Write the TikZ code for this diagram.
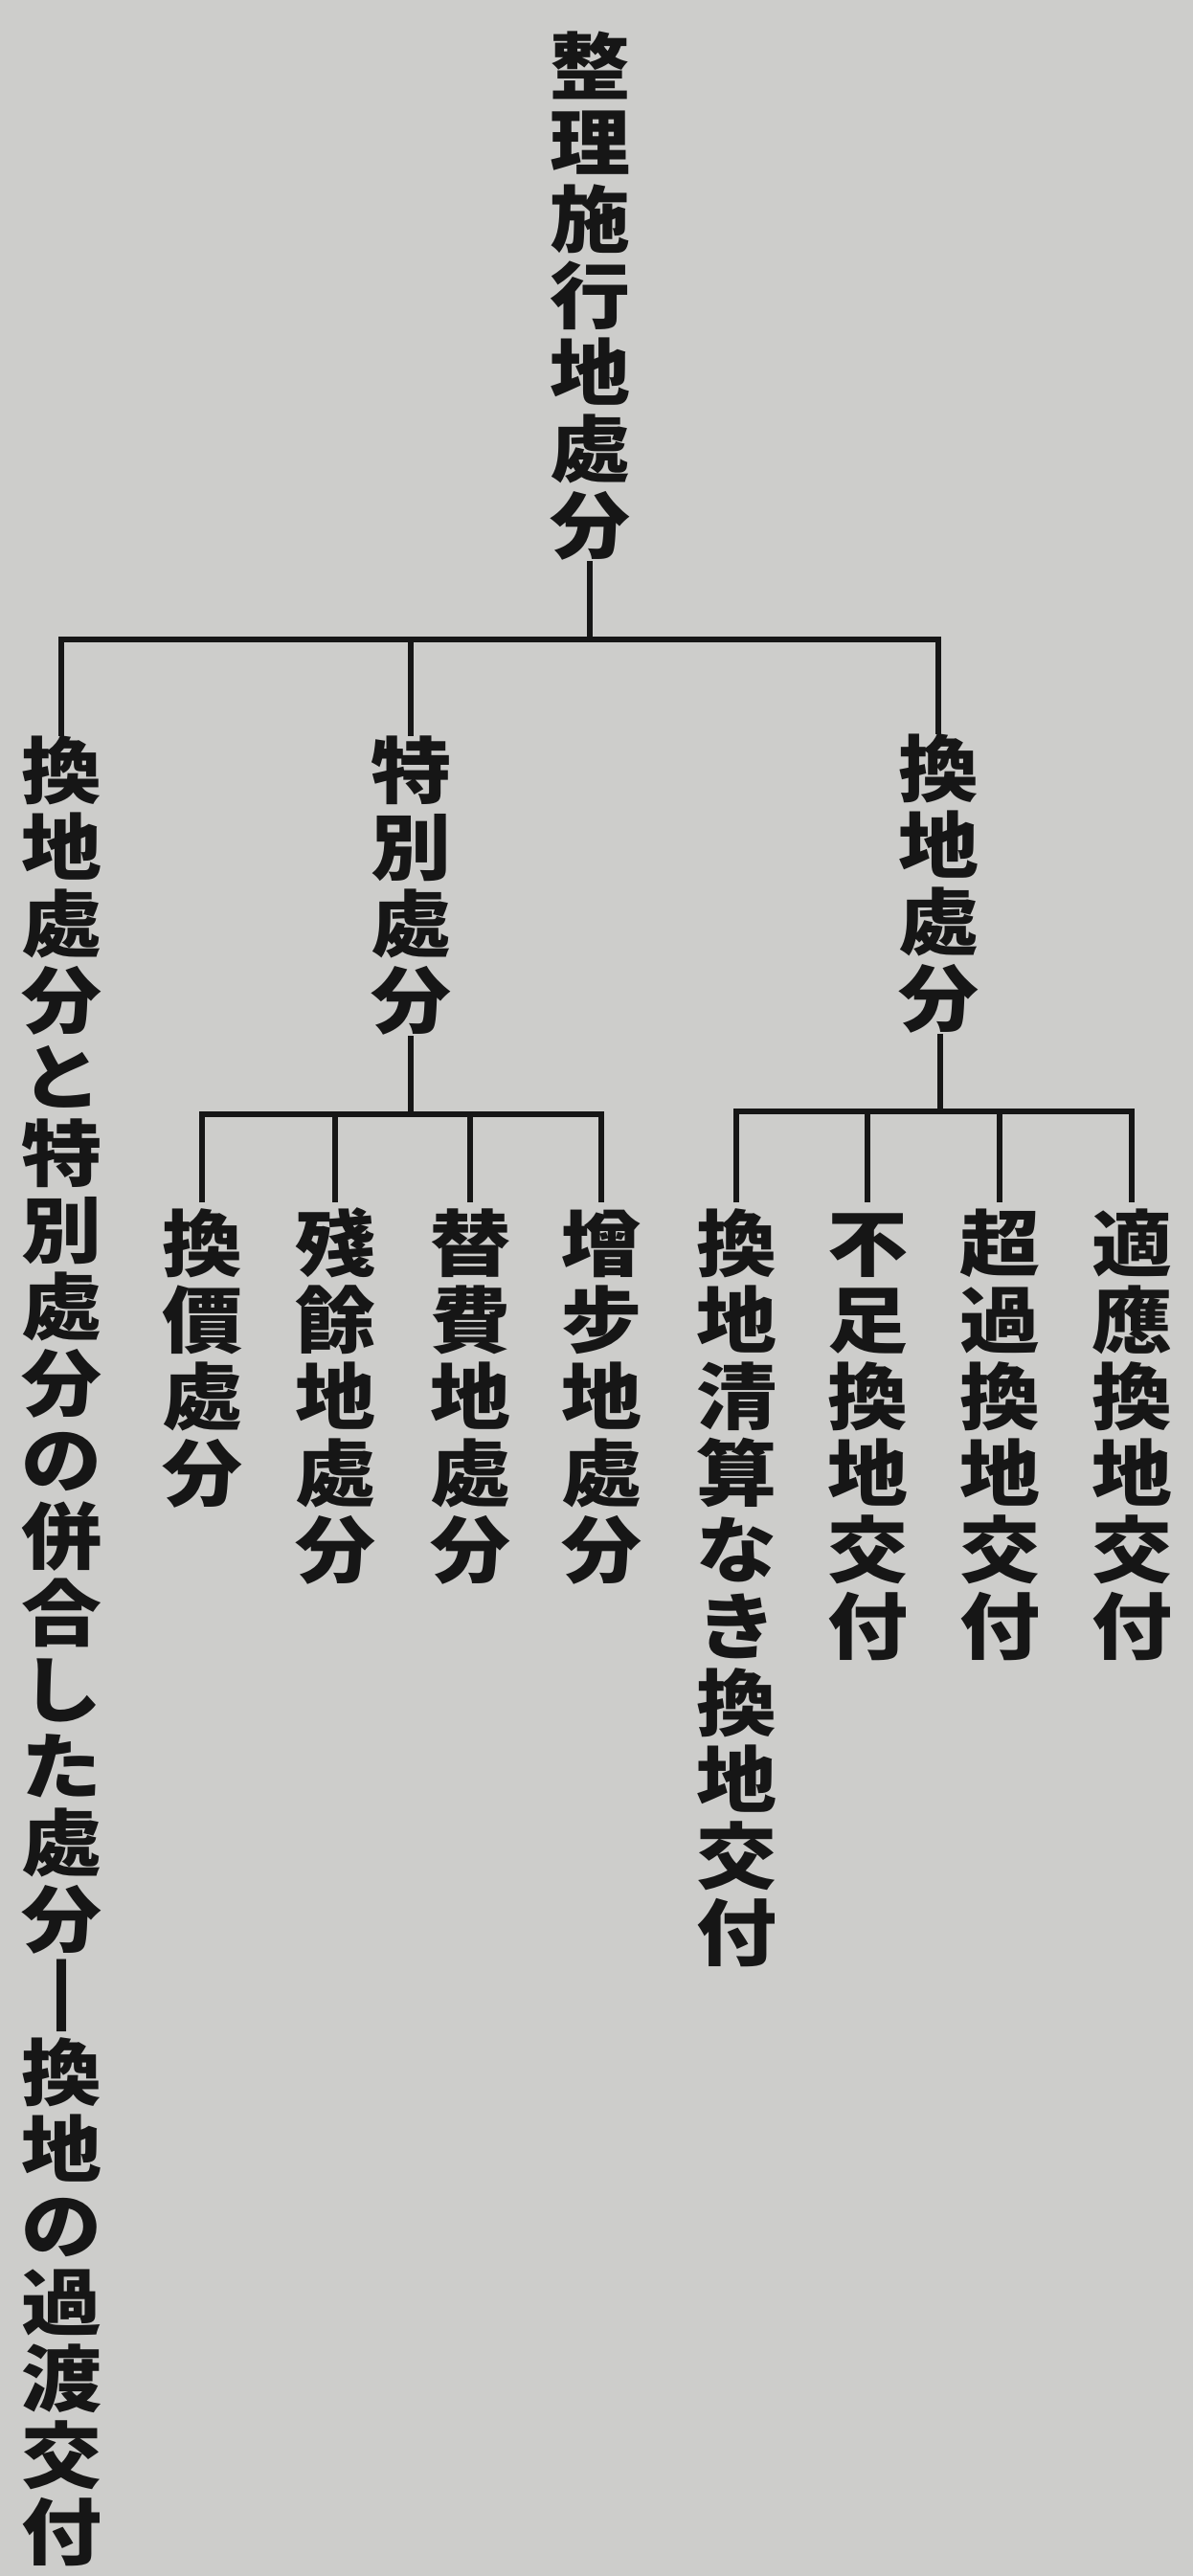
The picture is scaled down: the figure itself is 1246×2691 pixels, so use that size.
\documentclass[tikz,border=0pt]{standalone}
\usepackage{fontspec}
\usepackage{graphicx}
\newfontfamily\cjk{Noto Sans CJK JP}
\definecolor{paper}{RGB}{205,205,203}
\definecolor{ink}{RGB}{22,22,22}
\newcommand\vraise{9pt}
\makeatletter
\newcommand\vcell[1]{\hbox to 0pt{\hss\raisebox{\vraise}[80pt][0pt]{\scalebox{1}[0.9]{#1}}\hss}}
\newcommand\vtext[1]{\vbox{\offinterlineskip\@tfor\vt@c:=#1\do{\vcell{\vt@c}}}}
\makeatother
\tikzset{
  vcol/.style={inner sep=0pt, outer sep=0pt, anchor=north, text=ink,
    font=\cjk\bfseries\fontsize{84}{80}\selectfont},
  conn/.style={draw=ink, line width=6.5pt}
}
\begin{document}
\begin{tikzpicture}[x=1pt,y=-1pt]
\fill[paper] (0,0) rectangle (1246,2691);
\useasboundingbox (0,0) rectangle (1246,2691);
% nodes
\node[vcol] (root) at (616,26) {\vtext{整理施行地處分}};
\node[vcol] (A) at (64,762) {\vtext{換地處分と特別處分の併合した處分┃換地の過渡交付}};
\node[vcol] (B) at (429,762) {\vtext{特別處分}};
\node[vcol] (C) at (980,760) {\vtext{換地處分}};
\node[vcol] (B1) at (211,1256) {\vtext{換價處分}};
\node[vcol] (B2) at (350,1256) {\vtext{殘餘地處分}};
\node[vcol] (B3) at (491,1256) {\vtext{替費地處分}};
\node[vcol] (B4) at (628,1256) {\vtext{增步地處分}};
\node[vcol] (C1) at (769,1256) {\vtext{換地清算なき換地交付}};
\node[vcol] (C2) at (906,1256) {\vtext{不足換地交付}};
\node[vcol] (C3) at (1044,1256) {\vtext{超過換地交付}};
\node[vcol] (C4) at (1182,1256) {\vtext{適應換地交付}};
% junction levels
\coordinate (j0) at (616,668);
\coordinate (j1) at (429,1164);
\coordinate (j2) at (982,1161);
% root
\draw[conn] (root.south) -- (j0);
\draw[conn, line cap=rect] (A.north |- j0) -- (C.north |- j0);
\foreach \n in {A,B,C}{ \draw[conn] (\n.north |- j0) -- ([yshift=-7pt]\n.north); }
% special
\draw[conn] (B.south) -- (j1);
\draw[conn, line cap=rect] (B1.north |- j1) -- (B4.north |- j1);
\foreach \n in {B1,B2,B3,B4}{ \draw[conn] (\n.north |- j1) -- (\n.north); }
% exchange
\draw[conn] ([xshift=2pt]C.south) -- (j2);
\draw[conn, line cap=rect] (C1.north |- j2) -- (C4.north |- j2);
\foreach \n in {C1,C2,C3,C4}{ \draw[conn] (\n.north |- j2) -- (\n.north); }
\end{tikzpicture}
\end{document}
